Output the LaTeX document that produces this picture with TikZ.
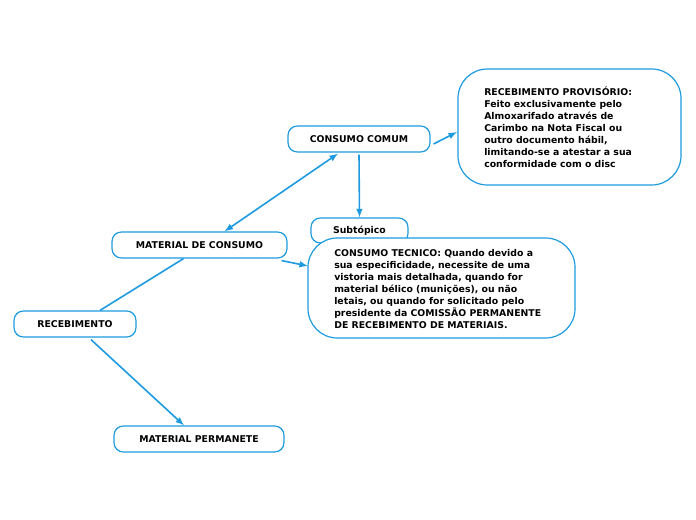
\documentclass[tikz,border=0pt]{standalone}
\usepackage{fontspec}
\setmainfont{DejaVu Sans}
\definecolor{mapblue}{HTML}{1E9BE0}
\tikzset{
	topic/.style={draw=mapblue, line width=0.9pt, rounded corners=7pt, fill=white, font=\bfseries\fontsize{7}{9}\selectfont, inner sep=0pt},
	note/.style={draw=mapblue, line width=0.9pt, rounded corners=22pt, fill=white},
	notetext/.style={anchor=north west, align=left, inner sep=0pt, font=\bfseries\fontsize{7}{9}\selectfont},
	link/.style={draw=mapblue, line width=1.2pt},
	arr/.style={link, -latex}
}
\begin{document}
\begin{tikzpicture}[x=0.75pt, y=-0.75pt]
			\useasboundingbox (0,0) rectangle (696,520);
			% boxes
			\node[topic, minimum width=142*0.75pt, minimum height=26*0.75pt] (CC) at (359,139) {CONSUMO COMUM};
			\node[topic, minimum width=97*0.75pt, minimum height=25*0.75pt] (S) at (359.5,230.5) {\raisebox{0pt}{Subtópico}};
			\node[topic, minimum width=175*0.75pt, minimum height=26*0.75pt] (MC) at (199.5,245) {MATERIAL DE CONSUMO};
			\node[topic, minimum width=122*0.75pt, minimum height=26*0.75pt] (R) at (75,324) {RECEBIMENTO};
			\node[topic, minimum width=170*0.75pt, minimum height=26*0.75pt] (MP) at (199,439) {MATERIAL PERMANETE};
			\draw[note] (458,69) rectangle (681,185);
			\node[notetext] (RP) at (484,87) {RECEBIMENTO PROVISÓRIO:\\Feito exclusivamente pelo\\Almoxarifado através de\\Carimbo na Nota Fiscal ou\\outro documento hábil,\\limitando-se a atestar a sua\\conformidade com o disc};
			\draw[note] (308,238) rectangle (575,338);
			\node[notetext] (CT) at (334,249) {CONSUMO TECNICO: Quando devido a\\sua especificidade, necessite de uma\\vistoria mais detalhada, quando for\\material bélico (munições), ou não\\letais, ou quando for solicitado pelo\\presidente da COMISSÃO PERMANENTE\\DE RECEBIMENTO DE MATERIAIS.};
			\coordinate (RPin) at (457,132);
			\coordinate (CTin) at (308,266);
			% connectors
			\draw[link] ([xshift=25*0.75pt]R.north) -- ([xshift=-16*0.75pt]MC.south);
			\draw[arr] ([xshift=16*0.75pt, yshift=-2*0.75pt]R.south) -- ([xshift=-15*0.75pt]MP.north);
			\draw[link, latex-latex] ([xshift=25*0.75pt]MC.north) -- ([xshift=-21*0.75pt, yshift=-1*0.75pt]CC.south);
			\draw[arr] ([xshift=-6*0.75pt, yshift=-2*0.75pt]MC.south east) -- (CTin);
			\draw[arr] ([yshift=-2*0.75pt]CC.south) -- (S.north);
			\draw[arr] ([xshift=3*0.75pt, yshift=-5*0.75pt]CC.east) -- (RPin);
		\end{tikzpicture}
\end{document}
